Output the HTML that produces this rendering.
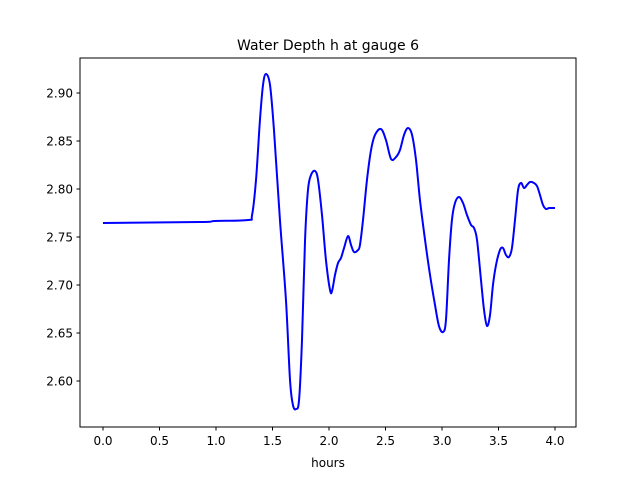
<!DOCTYPE html>
<html><head><meta charset="utf-8">
<style>
body{margin:0;background:#fff;}
svg{display:block;font-family:"DejaVu Sans","Liberation Sans",sans-serif;}
</style></head>
<body>
<svg id="chart" width="640" height="480" viewBox="0 0 640 480">
<rect width="640" height="480" fill="#fff"/>
<text x="328" y="50" text-anchor="middle" font-size="14">Water Depth h at gauge 6</text>
<g id="plot"></g>
<rect x="80" y="58" width="496" height="369" fill="none" stroke="#000" stroke-width="1"/>
<text x="328" y="467" text-anchor="middle" font-size="12">hours</text>
</svg>
<script>
const hours=[0,0.858,0.991,1.283,1.319,1.354,1.389,1.416,1.442,1.478,1.513,1.566,1.619,1.655,1.681,1.708,1.735,1.761,1.788,1.814,1.841,1.876,1.903,1.938,1.973,2.009,2.027,2.053,2.080,2.106,2.133,2.168,2.195,2.221,2.257,2.274,2.301,2.336,2.372,2.407,2.460,2.504,2.549,2.593,2.628,2.664,2.699,2.735,2.770,2.805,2.850,2.894,2.938,2.973,3.009,3.035,3.062,3.088,3.115,3.150,3.186,3.221,3.257,3.283,3.310,3.345,3.372,3.398,3.425,3.451,3.478,3.513,3.540,3.566,3.593,3.619,3.646,3.673,3.699,3.726,3.752,3.779,3.814,3.841,3.867,3.894,3.920,3.947,3.973,4.0];
const depth=[2.7646,2.7656,2.7667,2.7677,2.7729,2.8094,2.8719,2.9083,2.9198,2.9083,2.8615,2.7677,2.6844,2.6010,2.5750,2.5708,2.5802,2.6427,2.7469,2.7990,2.8146,2.8188,2.8094,2.7729,2.7260,2.6948,2.6938,2.7104,2.7229,2.7281,2.7385,2.7510,2.7417,2.7344,2.7365,2.7417,2.7677,2.8094,2.8406,2.8563,2.8625,2.8510,2.8313,2.8333,2.8406,2.8563,2.8635,2.8563,2.8302,2.7885,2.7469,2.7104,2.6792,2.6573,2.6510,2.6635,2.7260,2.7677,2.7854,2.7917,2.7854,2.7729,2.7625,2.7594,2.7469,2.7052,2.6740,2.6573,2.6688,2.7000,2.7208,2.7365,2.7385,2.7313,2.7292,2.7385,2.7677,2.7990,2.8063,2.8010,2.8042,2.8073,2.8063,2.8031,2.7938,2.7833,2.7792,2.7802,2.7802,2.7802];
const xTicks=[0.0,0.5,1.0,1.5,2.0,2.5,3.0,3.5,4.0];
const yTicks=[2.60,2.65,2.70,2.75,2.80,2.85,2.90];
const xS=h=>103+h*113;
const yS=v=>93+(2.90-v)*960;
const NS="http://www.w3.org/2000/svg";
const g=document.getElementById('plot');
xTicks.forEach(t=>{
  const l=document.createElementNS(NS,'line');
  
  
  l.setAttribute('x1',xS(t));l.setAttribute('x2',xS(t));l.setAttribute('y1',427);l.setAttribute('y2',430.5);l.setAttribute('stroke','#000');
  g.appendChild(l);
  const tx=document.createElementNS(NS,'text');
  
  
  tx.setAttribute('x',xS(t));tx.setAttribute('y',445);tx.setAttribute('text-anchor','middle');tx.setAttribute('font-size','12');
  tx.textContent=t.toFixed(1);g.appendChild(tx);
});
yTicks.forEach(t=>{
  const l=document.createElementNS(NS,'line');
  
  
  l.setAttribute('x1',76.5);l.setAttribute('x2',80);l.setAttribute('y1',yS(t));l.setAttribute('y2',yS(t));l.setAttribute('stroke','#000');
  g.appendChild(l);
  const tx=document.createElementNS(NS,'text');
  
  
  tx.setAttribute('x',73);tx.setAttribute('y',yS(t)+4.5);tx.setAttribute('text-anchor','end');tx.setAttribute('font-size','12');
  tx.textContent=t.toFixed(2);g.appendChild(tx);
});
const pts=hours.map((h,i)=>[xS(h),yS(depth[i])]);
let d='M'+pts[0][0]+','+pts[0][1];
for(let i=0;i<pts.length-1;i++){
  const p0=pts[Math.max(0,i-1)],p1=pts[i],p2=pts[i+1],p3=pts[Math.min(pts.length-1,i+2)];
  const c1x=p1[0]+(p2[0]-p0[0])/6,c1y=p1[1]+(p2[1]-p0[1])/6;
  const c2x=p2[0]-(p3[0]-p1[0])/6,c2y=p2[1]-(p3[1]-p1[1])/6;
  d+=' C'+c1x+','+c1y+' '+c2x+','+c2y+' '+p2[0]+','+p2[1];
}
const path=document.createElementNS(NS,'path');


path.setAttribute('d',d);path.setAttribute('fill','none');path.setAttribute('stroke','#0000ff');path.setAttribute('stroke-width','2');path.setAttribute('stroke-linejoin','round');
g.appendChild(path);
</script>
</body></html>
